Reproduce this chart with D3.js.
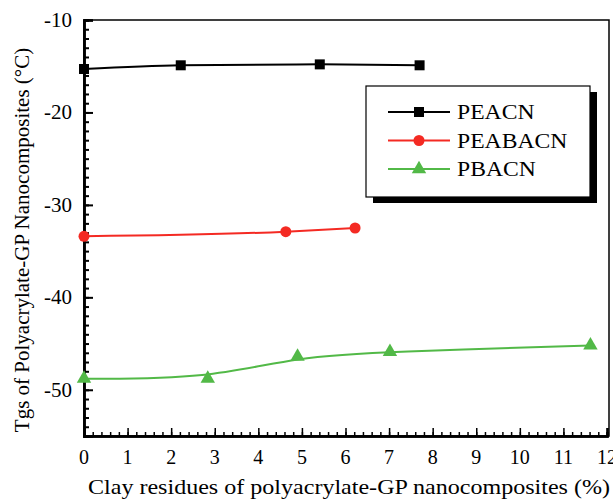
<!DOCTYPE html>
<meta charset="utf-8" />
<script src="https://d3js.org/d3.v7.min.js"></script>
<body style="margin:0;background:#fff">
<svg id="chart" width="613" height="504" style="font-family:'Liberation Serif','Times New Roman',serif"></svg>
<script>
/* data */
const peacnX   = [0, 2.22, 5.41, 7.7];
const peacnY   = [-15.3, -14.9, -14.8, -14.9];
const peabacnX = [0, 4.63, 6.22];
const peabacnY = [-33.4, -32.9, -32.5];
const pbacnX   = [0, 2.84, 4.9, 7.02, 11.62];
const pbacnY   = [-48.8, -48.8, -46.4, -45.9, -45.2];
const seriesNames = ["PEACN", "PEABACN", "PBACN"];
const xTicks = d3.range(0, 13);
const yTicks = [-10, -20, -30, -40, -50];

const colours = {PEACN:"#000", PEABACN:"#f42a23", PBACN:"#52b947"};

const m = {l:84, r:609, t:20, b:436};
const x = d3.scaleLinear().domain([0,12]).range([m.l, m.r - 2]);
const y = d3.scaleLinear().domain([-55,-10]).range([m.b, m.t]);

const svg = d3.select("#chart");

/* frame */
svg.append("rect").attr("x",m.l).attr("y",m.t).attr("width",m.r-m.l).attr("height",m.b-m.t)
  .attr("fill","none").attr("stroke","#000").attr("stroke-width",1.5);

/* x axis: ticks point inward */
const xAx = svg.append("g").attr("transform",`translate(0,${m.b})`);
xAx.call(d3.axisTop(x).tickValues(d3.range(0,12.01,0.2)).tickSize(4).tickFormat(""));
xAx.call(g=>g.selectAll(".tick line").attr("stroke-width",1.5));
const xMaj = svg.append("g").attr("transform",`translate(0,${m.b})`);
xMaj.call(d3.axisTop(x).tickValues(xTicks).tickSize(8).tickFormat(""))
  .call(g=>g.selectAll(".tick line").attr("stroke-width",1.5));
svg.append("g").selectAll("text").data(xTicks).join("text")
  .attr("x",d=>x(d)).attr("y",m.b+28).attr("text-anchor","middle")
  .style("font-size","20px").text(d=>d);

/* y axis */
const yAx = svg.append("g").attr("transform",`translate(${m.l},0)`);
yAx.call(d3.axisRight(y).tickValues(d3.range(-55,-9.5,1)).tickSize(5).tickFormat(""))
  .call(g=>g.selectAll(".tick line").attr("stroke-width",2));
const yMaj = svg.append("g").attr("transform",`translate(${m.l},0)`);
yMaj.call(d3.axisRight(y).tickValues(yTicks).tickSize(9).tickFormat(""))
  .call(g=>g.selectAll(".tick line").attr("stroke-width",2));
svg.selectAll(".domain").attr("stroke-width",2.5);
svg.append("g").selectAll("text").data(yTicks).join("text")
  .attr("x",m.l-12).attr("y",d=>y(d)+7).attr("text-anchor","end")
  .style("font-size","21px").text(d=>d);

/* axis titles */
svg.append("text").attr("x",88).attr("y",494)
  .attr("textLength",522).attr("lengthAdjust","spacingAndGlyphs")
  .style("font-size","21px")
  .text("Clay residues of polyacrylate-GP nanocomposites (%)");
svg.append("text").attr("transform",`translate(29,240) rotate(-90)`)
  .attr("text-anchor","middle").style("font-size","21px")
  .text("Tgs of Polyacrylate-GP Nanocomposites (°C)");

/* series */
const series = [
  {name:"PEACN", xs:peacnX, ys:peacnY, curve:d3.curveMonotoneX, shape:"square"},
  {name:"PEABACN", xs:peabacnX, ys:peabacnY, curve:d3.curveMonotoneX, shape:"circle"},
  {name:"PBACN", xs:pbacnX, ys:pbacnY, curve:d3.curveBasis, shape:"triangle"}
];
const symbols = {
  square: d3.symbol(d3.symbolSquare, 100),
  circle: d3.symbol(d3.symbolCircle, 95),
  triangle: d3.symbol(d3.symbolTriangle, 90)
};

series.forEach(s=>{
  const pts = s.xs.map((v,i)=>[v, s.ys[i]]);
  svg.append("path").datum(pts)
    .attr("d", d3.line().x(d=>x(d[0])).y(d=>y(d[1])).curve(s.curve))
    .attr("fill","none").attr("stroke",colours[s.name]).attr("stroke-width",2);
  svg.append("g").selectAll("path").data(pts).join("path")
    .attr("transform",d=>`translate(${x(d[0])},${y(d[1])})`)
    .attr("d",symbols[s.shape]).attr("fill",colours[s.name]);
});

/* legend with drop shadow */
const lg = svg.append("g").attr("transform","translate(366,86)");
lg.append("rect").attr("x",7).attr("y",6).attr("width",224).attr("height",111).attr("fill","#000");
lg.append("rect").attr("width",224).attr("height",111).attr("fill","#fff")
  .attr("stroke","#000").attr("stroke-width",1.2);
series.forEach((s,i)=>{
  const yy = 26 + i*28.5;
  lg.append("line").attr("x1",22).attr("x2",84).attr("y1",yy).attr("y2",yy)
    .attr("stroke",colours[s.name]).attr("stroke-width",2);
  lg.append("path").attr("transform",`translate(53,${yy})`).attr("d",symbols[s.shape])
    .attr("fill",colours[s.name]);
  lg.append("text").attr("transform",`translate(91,${yy+7}) scale(1.1,1)`)
    .style("font-size","21.5px").text(seriesNames[i]);
});
</script>
</body>
